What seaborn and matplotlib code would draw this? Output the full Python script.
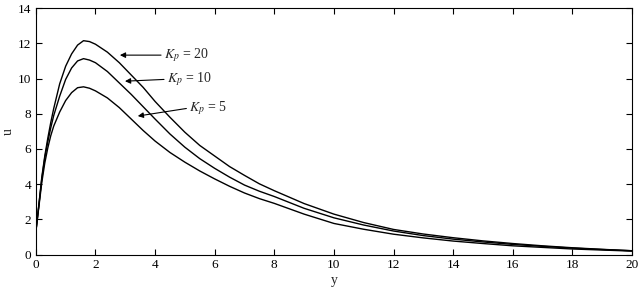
import numpy as np
import pandas as pd
import seaborn as sns
import matplotlib.pyplot as plt

# valori
y_pts = [0, 0.1, 0.2, 0.3, 0.4, 0.5, 0.6, 0.8, 1.0, 1.2, 1.4, 1.6, 1.8, 2.0, 2.4, 2.8,
         3.2, 3.6, 4.0, 4.5, 5.0, 5.5, 6.0, 6.5, 7.0, 7.5, 8.0, 9.0, 10, 11, 12, 13, 14,
         15, 16, 17, 18, 19, 20]
u_kp20 = [1.3, 2.8, 4.4, 5.6, 6.6, 7.5, 8.3, 9.7, 10.7, 11.4, 11.9, 12.15, 12.1, 11.95,
          11.5, 10.9, 10.2, 9.5, 8.7, 7.8, 6.95, 6.2, 5.6, 5.0, 4.5, 4.02, 3.63, 2.9, 2.3,
          1.82, 1.43, 1.17, 0.96, 0.78, 0.63, 0.5, 0.39, 0.3, 0.22]
u_kp10 = [1.3, 2.8, 4.3, 5.5, 6.4, 7.2, 7.9, 9.0, 9.95, 10.6, 11.0, 11.13, 11.05, 10.9,
          10.4, 9.75, 9.1, 8.4, 7.7, 6.85, 6.1, 5.45, 4.9, 4.4, 3.95, 3.6, 3.3, 2.63, 2.09,
          1.68, 1.34, 1.08, 0.88, 0.72, 0.58, 0.47, 0.37, 0.29, 0.22]
u_kp5 = [1.3, 2.7, 4.1, 5.2, 6.05, 6.75, 7.3, 8.1, 8.75, 9.2, 9.48, 9.53, 9.45, 9.3,
         8.9, 8.35, 7.7, 7.05, 6.45, 5.8, 5.25, 4.75, 4.3, 3.88, 3.5, 3.18, 2.91, 2.3, 1.77,
         1.44, 1.16, 0.95, 0.77, 0.63, 0.5, 0.41, 0.32, 0.26, 0.2]
etichette = ['20', '10', '5']

df = pd.DataFrame({'y': y_pts * 3,
                   'u': u_kp20 + u_kp10 + u_kp5,
                   'Kp': [k for k in etichette for _ in y_pts]})

sns.set_style('ticks')
plt.rcParams['font.family'] = ['Liberation Serif', 'DejaVu Serif']
plt.rcParams['mathtext.fontset'] = 'stix'
plt.rcParams['xtick.direction'] = 'in'
plt.rcParams['ytick.direction'] = 'in'

fig, ax = plt.subplots(figsize=(6.4, 2.9), dpi=100)
fig.subplots_adjust(left=0.056, right=0.9875, top=0.972, bottom=0.122)

sns.lineplot(data=df, x='y', y='u', units='Kp', estimator=None, color='black',
             linewidth=1.0, ax=ax)

ax.set_xlim(0, 20)
ax.set_ylim(0, 14)
ax.set_xticks(np.arange(0, 21, 2))
ax.set_yticks(np.arange(0, 15, 2))
ax.tick_params(top=True, right=True, length=4, width=0.8, labelsize=9.5, colors='black')
for s in ax.spines.values():
    s.set_linewidth(0.8)
    s.set_color('black')
ax.set_xlabel('y', fontsize=10, labelpad=2)
ax.set_ylabel('u', fontsize=10)
ax.yaxis.set_label_coords(-0.036, 0.5)

# frecce con etichette
frecce = [('20', (2.82, 11.33), (4.2, 11.33)),
          ('10', (2.99, 9.85), (4.3, 9.95)),
          ('5', (3.42, 7.87), (5.05, 8.3))]
for k, punta, coda in frecce:
    ax.annotate('', xy=punta, xytext=coda,
                arrowprops=dict(arrowstyle='-|>', color='black', lw=0.8,
                                mutation_scale=8, shrinkA=0, shrinkB=0))
    ax.text(coda[0] + 0.1, coda[1], r'$K_p$ = ' + k, fontsize=10,
            va='center', ha='left')

plt.savefig('out.png', dpi=100)
